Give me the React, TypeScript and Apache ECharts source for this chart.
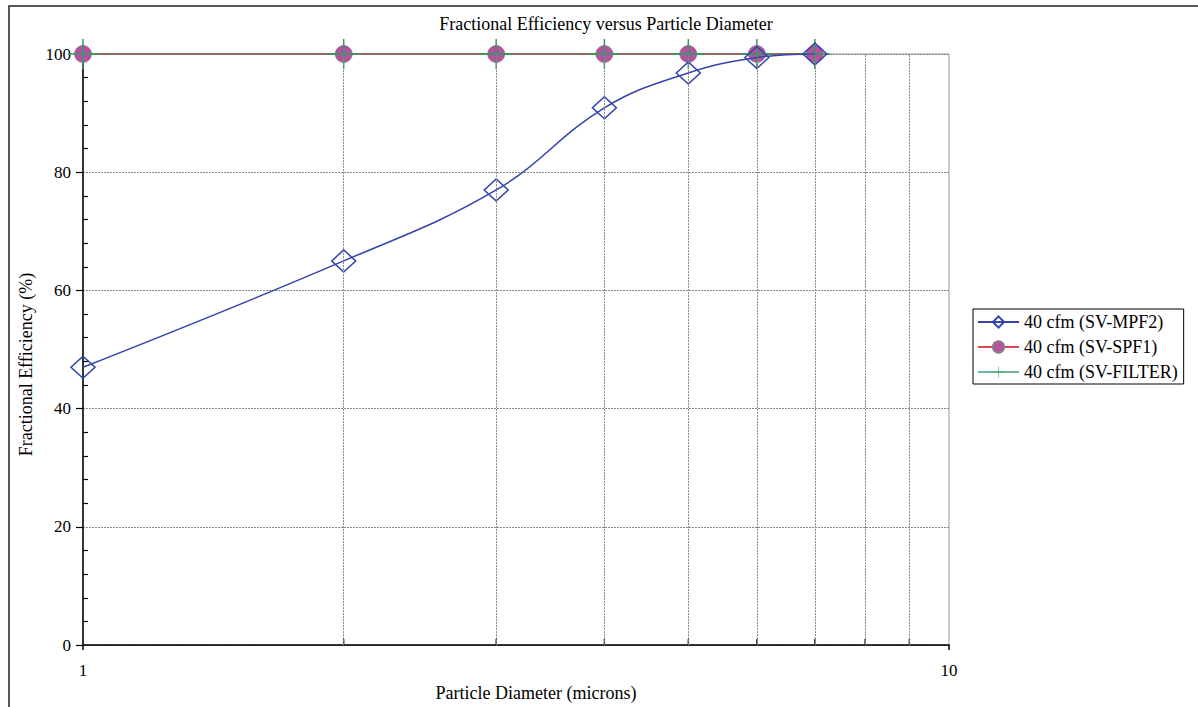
import React, { useEffect, useRef } from "react";
import * as echarts from "echarts";

const diameters = [1, 2, 3, 4, 5, 6, 7];
const mpf2 = [47, 65, 77, 90.9, 96.8, 99.4, 100];
const spf1 = [100, 100, 100, 100, 100, 100, 100];
const filter = [100, 100, 100, 100, 100, 100, 100];
const xGridValues = [2, 3, 4, 5, 6, 7, 8, 9];
const seriesNames = ["40 cfm (SV-MPF2)", "40 cfm (SV-SPF1)", "40 cfm (SV-FILTER)"];

const FONT = "'Liberation Serif', 'Times New Roman', serif";
const BLUE = "#3344AA";
const MAGENTA = "#B8509F";
const RED = "#E04555";
const GREEN = "#2F9A68";

export default function App() {
  const ref = useRef<HTMLDivElement>(null);
  useEffect(() => {
    if (!ref.current) return;
    const chart = echarts.init(ref.current, undefined, { renderer: "svg" });
    const crossPath = "path://M19,0 H21 V40 H19 Z M0,19 H40 V21 H0 Z";
    chart.setOption({
      animation: false,
      backgroundColor: "#ffffff",
      textStyle: { fontFamily: FONT, color: "#000" },
      title: {
        text: "Fractional Efficiency versus Particle Diameter",
        left: 601,
        top: 10,
        textAlign: "center",
        textStyle: { fontFamily: FONT, fontSize: 18, fontWeight: "normal", color: "#000" },
      },
      graphic: [
        {
          type: "rect",
          shape: { x: 9, y: 6, width: 1400, height: 900 },
          style: { fill: "none", stroke: "#222", lineWidth: 1.5 },
          silent: true,
          z: 100,
        },
      ],
      legend: {
        orient: "vertical",
        left: 973,
        top: 309,
        data: seriesNames,
        backgroundColor: "#fff",
        borderColor: "#000",
        borderWidth: 1,
        padding: [4, 6, 3, 4],
        itemWidth: 41,
        itemHeight: 14,
        itemGap: 7,
        textStyle: { fontFamily: FONT, fontSize: 18, color: "#000" },
      },
      grid: {
        left: 83,
        right: 249,
        top: 54,
        bottom: 60,
        show: true,
        borderColor: "#9a9a9a",
        borderWidth: 1,
        backgroundColor: "transparent",
      },
      xAxis: {
        type: "log",
        logBase: 10,
        min: 1,
        max: 10,
        name: "Particle Diameter (microns)",
        nameLocation: "middle",
        nameGap: 33,
        nameTextStyle: { fontFamily: FONT, fontSize: 18, color: "#000", padding: [0, 0, 0, 40] },
        axisLine: { lineStyle: { color: "#000", width: 1.5 } },
        axisTick: { show: true, length: 5, lineStyle: { color: "#000", width: 1.5 } },
        axisLabel: { fontFamily: FONT, fontSize: 17, color: "#000", margin: 17 },
        splitLine: { show: false },
        minorTick: { show: false },
        minorSplitLine: { show: false },
      },
      yAxis: [
        {
          type: "value",
          min: 0,
          max: 100,
          interval: 20,
          name: "Fractional Efficiency (%)",
          nameLocation: "middle",
          nameGap: 42,
          nameTextStyle: { fontFamily: FONT, fontSize: 18, color: "#000", padding: [0, 30, 0, 0] },
          axisLine: { show: true, lineStyle: { color: "#000", width: 1.5 } },
          axisTick: { show: true, length: 7, lineStyle: { color: "#000", width: 1.2 } },
          axisLabel: { fontFamily: FONT, fontSize: 17, color: "#000", margin: 12 },
          splitLine: { show: true, lineStyle: { color: "#888", type: [2, 1], width: 1 } },
        },
        {
          type: "value",
          min: 0,
          max: 100,
          interval: 20,
          position: "left",
          axisLine: { show: false },
          axisTick: { show: false, inside: true },
          axisLabel: { show: false },
          splitLine: { show: false },
          minorTick: { show: true, splitNumber: 5, length: 5, lineStyle: { color: "#000", width: 1.2 } },
        },
      ],
      series: [
        {
          name: "xgrid",
          type: "scatter",
          data: xGridValues.map((v) => [v, 0]),
          symbol: "rect",
          symbolSize: [1.5, 6],
          symbolOffset: [0, -3],
          itemStyle: { color: "#000" },
          silent: true,
          clip: false,
          z: 1,
          markLine: {
            silent: true,
            symbol: "none",
            label: { show: false },
            lineStyle: { color: "#888", type: [2, 1], width: 1 },
            data: xGridValues.map((v) => ({ xAxis: v })),
          },
        },
        {
          name: seriesNames[1],
          type: "line",
          data: diameters.map((d, i) => [d, spf1[i]]),
          symbol: "circle",
          symbolSize: 17,
          itemStyle: { color: MAGENTA, borderColor: "#8a7a86", borderWidth: 0.8 },
          lineStyle: { color: RED, width: 2 },
          z: 2,
        },
        {
          name: seriesNames[2],
          type: "line",
          data: diameters.map((d, i) => [d, filter[i]]),
          symbol: crossPath,
          symbolSize: 30,
          itemStyle: { color: GREEN },
          lineStyle: { color: GREEN, width: 1.5, opacity: 0.7 },
          z: 3,
        },
        {
          name: seriesNames[0],
          type: "line",
          data: diameters.map((d, i) => [d, mpf2[i]]),
          smooth: 0.4,
          symbol: "diamond",
          symbolSize: [24, 22],
          itemStyle: { color: "rgba(255,255,255,0)", borderColor: BLUE, borderWidth: 1.5 },
          lineStyle: { color: BLUE, width: 1.5 },
          z: 4,
        },
      ],
    });
    return () => chart.dispose();
  }, []);
  return (
    <div
      ref={ref}
      style={{ position: "absolute", left: 0, top: 0, width: 1198, height: 707 }}
    />
  );
}
